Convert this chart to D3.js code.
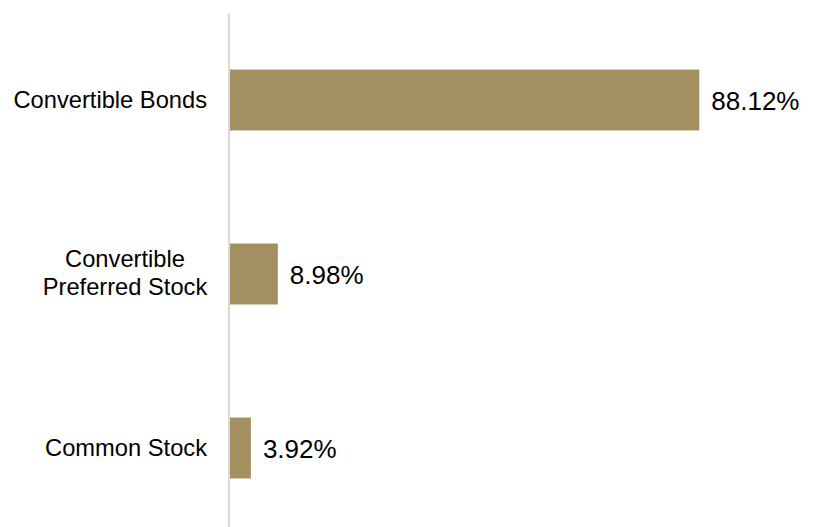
<!DOCTYPE html>
<html>
<head>
<meta charset="utf-8">
<script src="https://cdnjs.cloudflare.com/ajax/libs/d3/7.8.5/d3.min.js"></script>
<style>
  html, body { margin: 0; padding: 0; background: #fff; }
  svg { display: block; font-family: "Liberation Sans", Arial, sans-serif; }
</style>
</head>
<body>
<svg id="chart" width="814" height="527"></svg>
<script>
const categories = ["Convertible Bonds", "Convertible\nPreferred Stock", "Common Stock"];
const values = [88.12, 8.98, 3.92];
const valueLabels = ["88.12%", "8.98%", "3.92%"];

const svg = d3.select("#chart");
const x0 = 230;
const x = d3.scaleLinear().domain([0, 88.12]).range([x0, 699.3]);
const y = d3.scaleBand().domain(categories).range([13, 535])
  .paddingInner(0.65).paddingOuter(0.325);

// bars
svg.selectAll("rect.bar").data(values).enter().append("rect")
  .attr("class", "bar")
  .attr("x", x(0))
  .attr("y", (d, i) => y(categories[i]))
  .attr("width", d => x(d) - x(0))
  .attr("height", y.bandwidth())
  .attr("fill", "#a38f60");

// axis line
svg.append("line")
  .attr("x1", x0 - 1).attr("x2", x0 - 1)
  .attr("y1", 13).attr("y2", 527)
  .attr("stroke", "#d9d9d9").attr("stroke-width", 2);

// category labels
const labelRight = 207;
categories.forEach((c, i) => {
  const lines = c.split("\n");
  const cy = y(c) + y.bandwidth() / 2;
  const t = svg.append("text")
    .attr("font-size", "23.7px")
    .attr("fill", "#000");
  if (lines.length === 1) {
    t.attr("text-anchor", "end").attr("x", labelRight).attr("y", cy + 7.5).text(c);
  } else {
    t.attr("text-anchor", "middle");
    const lh = 28;
    lines.forEach((ln, j) => {
      t.append("tspan")
        .attr("x", 125)
        .attr("y", cy - 7.5 + j * lh)
        .text(ln);
    });
  }
});

// value labels
values.forEach((v, i) => {
  const cy = y(categories[i]) + y.bandwidth() / 2;
  svg.append("text")
    .attr("x", x(v) + 12)
    .attr("y", cy + 9.5)
    .attr("font-size", "26px")
    .attr("fill", "#000")
    .text(valueLabels[i]);
});
</script>
</body>
</html>
